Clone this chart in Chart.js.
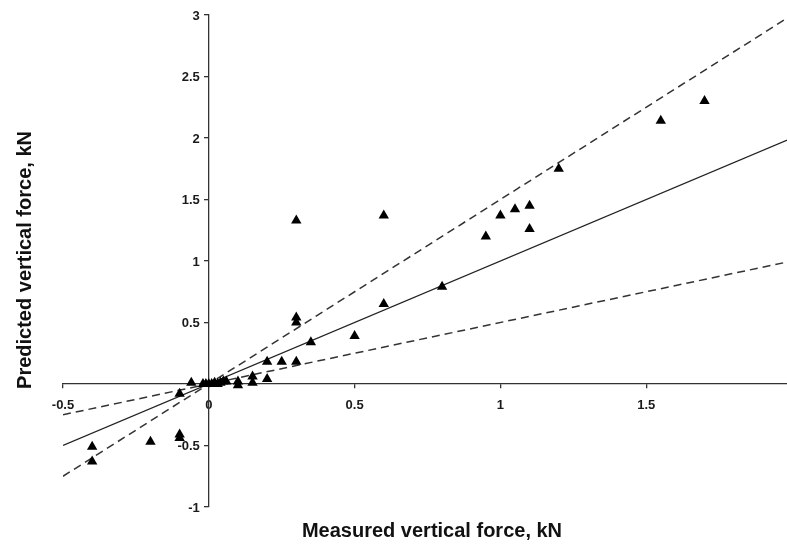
<!DOCTYPE html>
<html>
<head>
<meta charset="utf-8">
<script src="https://cdn.jsdelivr.net/npm/chart.js@4/dist/chart.umd.min.js"></script>
<style>
  html, body { margin: 0; padding: 0; background: #fff; overflow: hidden; }
  #wrap { width: 787px; height: 544px; overflow: hidden; }
  canvas { display: block; }
</style>
</head>
<body>
<div id="wrap"><canvas id="c" width="798" height="544"></canvas></div>
<script>
// Measured vs predicted vertical force (kN)
const measured = [
  1.70, 1.55, 1.20, 1.10, 1.05, 1.00, 1.10, 0.95,
  0.30, 0.60, 0.80, 0.60, 0.30, 0.30, 0.50, 0.35,
  0.20, 0.25, 0.30, 0.20, 0.15, 0.15, 0.10, 0.10, 0.05,
  0.06, 0.04, 0.03, 0.02, 0.01, 0.00, -0.01, -0.02,
  -0.06, -0.10,
  -0.40, -0.40, -0.20, -0.10, -0.10
];
const predicted = [
  2.30, 2.14, 1.75, 1.45, 1.42, 1.37, 1.26, 1.20,
  1.33, 1.37, 0.79, 0.65, 0.54, 0.50, 0.39, 0.34,
  0.18, 0.18, 0.18, 0.04, 0.06, 0.01, 0.02, -0.01, 0.02,
  0.02, 0.01, 0.00, 0.01, 0.00, 0.00, 0.00, 0.00,
  0.01, -0.08,
  -0.51, -0.63, -0.47, -0.41, -0.44
];

// Reference lines: 1:1 and +/-50 % bounds
const lineX = [-0.5, 2];
const oneToOne = [-0.5, 2];
const upperBound = [-0.75, 3];
const lowerBound = [-0.25, 1];

const xTicks = [-0.5, 0, 0.5, 1, 1.5, 2];
const yTicks = [-1, -0.5, 0, 0.5, 1, 1.5, 2, 2.5, 3];

const xTitle = 'Measured vertical force, kN';
const yTitle = 'Predicted vertical force, kN';

const FONT = "'Liberation Sans', Arial, Helvetica, sans-serif";
const pairs = (xs, ys) => xs.map((x, i) => ({ x, y: ys[i] }));

// Axis titles, plus y tick labels set just left of the y axis (which sits at x = 0)
const axisText = {
  id: 'axisText',
  afterDraw(chart) {
    const { ctx, chartArea, scales } = chart;
    ctx.save();
    ctx.fillStyle = '#1a1a1a';
    ctx.font = 'bold 13px ' + FONT;
    ctx.textAlign = 'right';
    ctx.textBaseline = 'middle';
    const axisX = scales.x.getPixelForValue(0);
    yTicks.forEach(v => {
      if (v === 0) return;
      ctx.fillText(String(v), axisX - 9, scales.y.getPixelForValue(v) + 1);
    });

    ctx.fillStyle = '#111';
    ctx.font = 'bold 20px ' + FONT;
    ctx.textAlign = 'center';
    ctx.fillText(xTitle, 432, chartArea.bottom + 24);
    ctx.translate(25, chartArea.top + 245);
    ctx.rotate(-Math.PI / 2);
    ctx.fillText(yTitle, 0, 0);
    ctx.restore();
  }
};

const tickFont = { family: FONT, size: 13, weight: 'bold' };

new Chart(document.getElementById('c'), {
  type: 'scatter',
  data: {
    datasets: [
      {
        label: 'Data',
        data: pairs(measured, predicted),
        pointStyle: 'triangle',
        pointRadius: 6,
        pointHoverRadius: 6,
        backgroundColor: '#000',
        borderColor: '#000',
        borderWidth: 0,
        order: 0
      },
      {
        label: '1:1',
        type: 'line',
        data: pairs(lineX, oneToOne),
        borderColor: '#222',
        borderWidth: 1.3,
        pointRadius: 0,
        fill: false,
        order: 1
      },
      {
        label: '+50%',
        type: 'line',
        data: pairs(lineX, upperBound),
        borderColor: '#333',
        borderWidth: 1.5,
        borderDash: [8, 5],
        pointRadius: 0,
        fill: false,
        order: 1
      },
      {
        label: '-50%',
        type: 'line',
        data: pairs(lineX, lowerBound),
        borderColor: '#333',
        borderWidth: 1.5,
        borderDash: [8, 5],
        pointRadius: 0,
        fill: false,
        order: 1
      }
    ]
  },
  options: {
    responsive: false,
    animation: false,
    events: [],
    layout: { padding: { left: 63, right: 0, top: 15, bottom: 37 } },
    plugins: { legend: { display: false }, tooltip: { enabled: false } },
    scales: {
      x: {
        type: 'linear',
        position: { y: 0 },
        min: -0.5,
        max: 2,
        afterFit(s) { s.height = 0; s.paddingLeft = 0; s.paddingRight = 0; s.paddingTop = 0; s.paddingBottom = 0; },
        afterBuildTicks(s) { s.ticks = xTicks.map(v => ({ value: v })); },
        grid: { drawOnChartArea: false, drawTicks: true, tickLength: 4, color: '#333', lineWidth: 1.3 },
        border: { display: true, color: '#333', width: 1.3 },
        ticks: { font: tickFont, color: '#1a1a1a', padding: 10, maxRotation: 0, autoSkip: false,
                 callback: v => String(v) }
      },
      y: {
        type: 'linear',
        position: { x: 0 },
        min: -1,
        max: 3,
        afterFit(s) { s.width = 0; s.paddingLeft = 0; s.paddingRight = 0; s.paddingTop = 0; s.paddingBottom = 0; },
        afterBuildTicks(s) { s.ticks = yTicks.map(v => ({ value: v })); },
        grid: { drawOnChartArea: false, drawTicks: true, tickLength: 4, color: '#333', lineWidth: 1.3 },
        border: { display: true, color: '#333', width: 1.3 },
        ticks: { display: false }
      }
    }
  },
  plugins: [axisText]
});
</script>
</body>
</html>
